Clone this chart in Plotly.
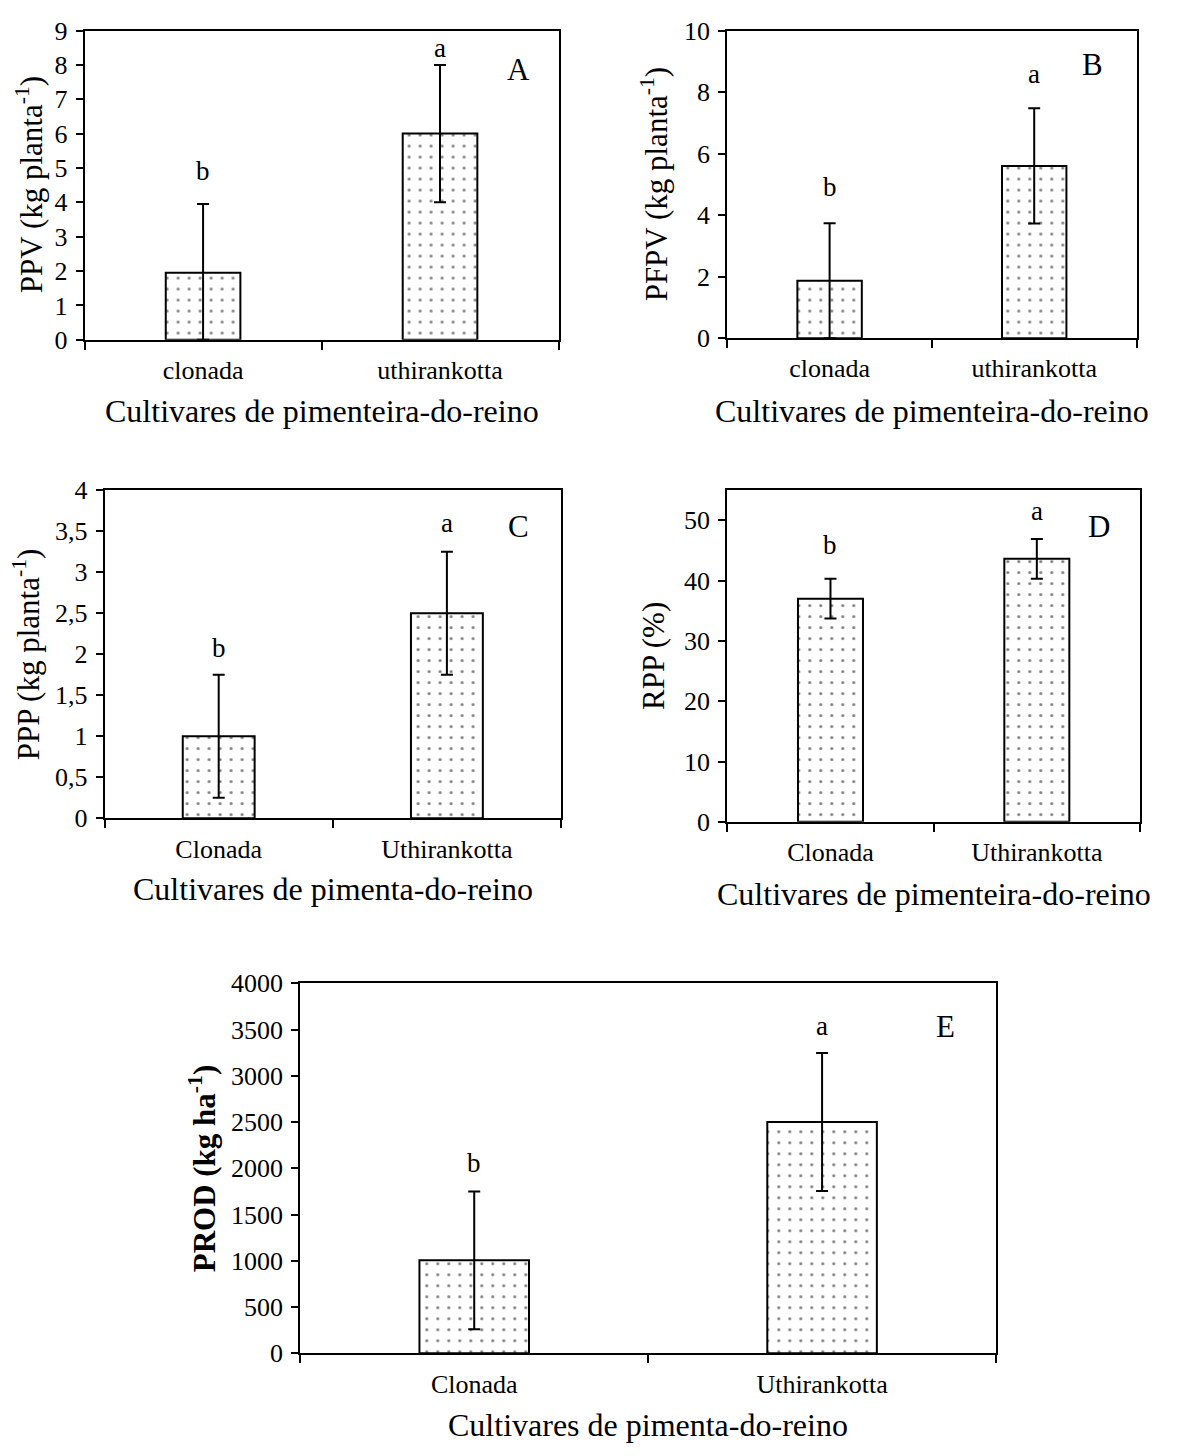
import plotly.graph_objects as go

# target picture size; the page body adds an 8px margin round the figure
PAGE_W, PAGE_H = 1182, 1456
M = 8
W, H = PAGE_W - 2 * M, PAGE_H - 2 * M

# categories
cult_lower = ["clonada", "uthirankotta"]
cult_upper = ["Clonada", "Uthirankotta"]

# A - PPV (kg planta-1)
ppv = [1.95, 6.0]
ppv_err = [2.0, 2.0]
# B - PFPV (kg planta-1)
pfpv = [1.87, 5.6]
pfpv_err = [1.87, 1.87]
# C - PPP (kg planta-1)
ppp = [1.0, 2.5]
ppp_err = [0.75, 0.75]
# D - RPP (%)
rpp = [37.0, 43.6]
rpp_err = [3.3, 3.3]
# E - PROD (kg ha-1)
prod = [1005, 2500]
prod_err = [745, 745]

# Tukey letters
letters = ["b", "a"]

FONT = "Liberation Serif"


def fx(x):
    return (x - M) / W


def fy(y):
    return 1 - (y - M) / H


panels = [
    dict(cats=cult_lower, y=ppv, err=ppv_err, box=(84.6, 16.7, 558.5, 332.3),
         yr=[0, 9], dtick=1, ytitle="PPV (kg planta<sup>-1</sup>)", ytx=29,
         xtitle="Cultivares de pimenteira-do-reino", xty=405,
         tag="A", tagpos=(518, 56.7), lety=[4.91, 8.5]),
    dict(cats=cult_lower, y=pfpv, err=pfpv_err, box=(727.3, 16.7, 1136.5, 330.7),
         yr=[0, 10], dtick=2, ytitle="PFPV (kg planta<sup>-1</sup>)", ytx=654,
         xtitle="Cultivares de pimenteira-do-reino", xty=405,
         tag="B", tagpos=(1092.7, 51.7), lety=[4.9, 8.6]),
    dict(cats=cult_upper, y=ppp, err=ppp_err, box=(104.6, 485.7, 561, 820.7),
         yr=[0, 4], dtick=0.5, ytitle="PPP (kg planta<sup>-1</sup>)", ytx=26,
         xtitle="Cultivares de pimenta-do-reino", xty=893,
         tag="C", tagpos=(518.3, 523.3), lety=[2.08, 3.6]),
    dict(cats=cult_upper, y=rpp, err=rpp_err, box=(727.3, 485.7, 1140, 824.3),
         yr=[0, 55], dtick=10, ytitle="RPP (%)", ytx=654,
         xtitle="Cultivares de pimenteira-do-reino", xty=898,
         tag="D", tagpos=(1099, 523.3), lety=[45.9, 51.5]),
    dict(cats=cult_upper, y=prod, err=prod_err, box=(300.3, 989, 996, 1366.7),
         yr=[0, 4000], dtick=500, ytitle="<b>PROD (kg ha<sup>-1</sup>)</b>", ytx=202,
         xtitle="Cultivares de pimenta-do-reino", xty=1440,
         tag="E", tagpos=(945, 1033.3), lety=[2059, 3540]),
]

fig = go.Figure()
annotations = []

for i, p in enumerate(panels, start=1):
    sfx = "" if i == 1 else str(i)
    x0, y0, x1, y1 = p["box"]
    fig.add_trace(go.Bar(
        x=p["cats"], y=p["y"], width=0.315,
        xaxis="x" + sfx, yaxis="y" + sfx,
        marker=dict(color="white",
                    line=dict(color="black", width=2),
                    pattern=dict(shape=".", fgcolor="black", bgcolor="white",
                                 size=11, solidity=0.06, fillmode="overlay")),
        error_y=dict(type="data", symmetric=False, array=p["err"],
                     arrayminus=[min(e, v) for e, v in zip(p["err"], p["y"])],
                     color="black", thickness=2, width=6),
        showlegend=False,
    ))
    fig.update_layout(**{
        "xaxis" + sfx: dict(domain=[fx(x0), fx(x1)], anchor="y" + sfx,
                            showline=True, mirror=True, linecolor="black", linewidth=2,
                            ticks="outside", ticklen=8, tickwidth=2, tickcolor="black",
                            tickson="boundaries", showgrid=False, ticklabelstandoff=6,
                            tickfont=dict(family=FONT, size=26, color="black")),
        "yaxis" + sfx: dict(domain=[fy(y1), fy(y0)], anchor="x" + sfx,
                            range=p["yr"], dtick=p["dtick"], tick0=0,
                            showline=True, mirror=True, linecolor="black", linewidth=2,
                            ticks="outside", ticklen=7, tickwidth=2, tickcolor="black",
                            showgrid=False, zeroline=False, ticklabelstandoff=3,
                            tickfont=dict(family=FONT, size=26, color="black")),
    })
    # y title
    annotations.append(dict(text=p["ytitle"], x=fx(p["ytx"]), y=fy((y0 + y1) / 2),
                            xref="paper", yref="paper", textangle=-90, showarrow=False,
                            xanchor="center", yanchor="middle",
                            font=dict(family=FONT, size=31, color="black")))
    # x title
    annotations.append(dict(text=p["xtitle"], x=fx((x0 + x1) / 2), y=fy(p["xty"]),
                            xref="paper", yref="paper", showarrow=False,
                            xanchor="center", yanchor="middle",
                            font=dict(family=FONT, size=32, color="black")))
    # panel tag
    tx, ty = p["tagpos"]
    annotations.append(dict(text=p["tag"], x=fx(tx), y=fy(ty), xref="paper", yref="paper",
                            showarrow=False, xanchor="center", yanchor="middle",
                            font=dict(family=FONT, size=31, color="black")))
    # significance letters
    for c, ly, lt in zip(p["cats"], p["lety"], letters):
        annotations.append(dict(text=lt, x=c, y=ly, xref="x" + sfx, yref="y" + sfx,
                                showarrow=False, xanchor="center", yanchor="middle",
                                font=dict(family=FONT, size=27, color="black")))

fig.update_layout(
    width=W, height=H,
    margin=dict(l=0, r=0, t=0, b=0),
    paper_bgcolor="white", plot_bgcolor="white",
    separators=", ",
    font=dict(family=FONT, color="black"),
    annotations=annotations,
)

fig.write_html("out.html")
